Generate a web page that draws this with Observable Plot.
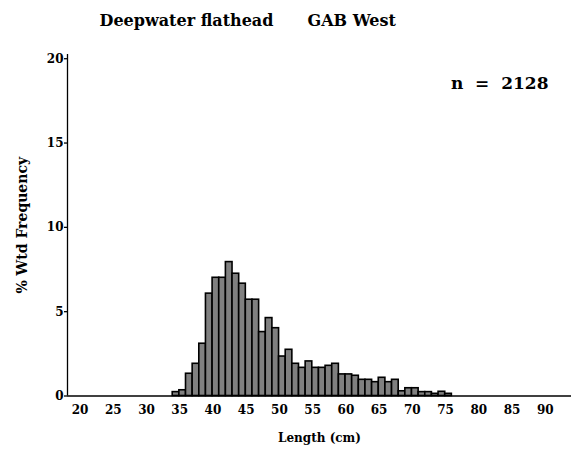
<!DOCTYPE html>
<html><head><meta charset="utf-8">
<script src="https://cdn.jsdelivr.net/npm/d3@7"></script>
<script src="https://cdn.jsdelivr.net/npm/@observablehq/plot@0.6"></script>
<style>body{margin:0;background:#fff} svg text{white-space:pre}</style>
</head><body><div id="chart"></div>
<script>
// Length class (cm, left edge of 1 cm bin)
const lengths = [35,36,37,38,39,40,41,42,43,44,45,46,47,48,49,50,51,52,53,54,55,56,57,58,59,60,61,62,63,64,65,66,67,68,69,70,71,72,73,74,75,76];
// % weighted frequency
const pctWtdFreq = [0.23,0.34,1.32,1.91,3.10,6.07,7.01,7.01,7.94,7.25,6.66,5.71,5.71,3.79,4.62,4.02,2.34,2.74,1.91,1.67,2.05,1.67,1.67,1.79,1.91,1.28,1.28,1.20,0.96,0.96,0.82,1.08,0.82,0.96,0.28,0.46,0.46,0.23,0.23,0.13,0.25,0.13];
const xTicks = [20,25,30,35,40,45,50,55,60,65,70,75,80,85,90];
const yTicks = [0,5,10,15,20];
const titleSpecies = "Deepwater flathead";
const titleRegion = "GAB West";
const nLabel = "n  =  2128";
const xLabel = "Length (cm)";
const yLabel = "% Wtd Frequency";

const data = lengths.map((L, i) => ({x1: L, x2: L + 1, y: pctWtdFreq[i]}));
const xDomain = [19.17, 95];
const yDomain = [0, 20.25];

const chart = Plot.plot({
  width: 579, height: 450,
  marginLeft: 67, marginRight: 8, marginTop: 54, marginBottom: 54.5,
  style: {fontFamily: "DejaVu Serif", fontWeight: "bold", background: "#fff", color: "#000"},
  x: {domain: xDomain},
  y: {domain: yDomain},
  marks: [
    Plot.rectY(data, {x1: "x1", x2: "x2", y: "y", fill: "#808080", stroke: "#000", strokeWidth: 1.6}),
    Plot.ruleY([0], {stroke: "#000", strokeWidth: 1.6}),
    Plot.ruleX([xDomain[0]], {y1: yDomain[0], y2: yDomain[1], stroke: "#000", strokeWidth: 1.3}),
    Plot.axisY({ticks: yTicks, tickSize: 3, tickPadding: 1, fontSize: 12, label: null, strokeWidth: 1.3}),
    Plot.axisX({ticks: xTicks, tickSize: 0, tickPadding: 9, fontSize: 12, label: null, dx: 7}),
    Plot.text([titleSpecies], {text: d => d, frameAnchor: "top-left", dx: 32, dy: -34, textAnchor: "start", lineAnchor: "middle", fontSize: 16}),
    Plot.text([titleRegion], {text: d => d, frameAnchor: "top-left", dx: 240, dy: -34, textAnchor: "start", lineAnchor: "middle", fontSize: 16}),
    Plot.text([nLabel], {text: d => d, frameAnchor: "top-right", dx: -23, dy: 29, textAnchor: "end", lineAnchor: "middle", fontSize: 17}),
    Plot.text([xLabel], {text: d => d, frameAnchor: "bottom", dy: 42.5, textAnchor: "middle", lineAnchor: "middle", fontSize: 12}),
    Plot.text([yLabel], {text: d => d, frameAnchor: "left", dx: -45, rotate: -90, textAnchor: "middle", lineAnchor: "middle", fontSize: 14})
  ]
});
chart.querySelectorAll("text").forEach(t => t.setAttributeNS("http://www.w3.org/XML/1998/namespace", "xml:space", "preserve"));
document.getElementById("chart").appendChild(chart);
</script></body></html>
